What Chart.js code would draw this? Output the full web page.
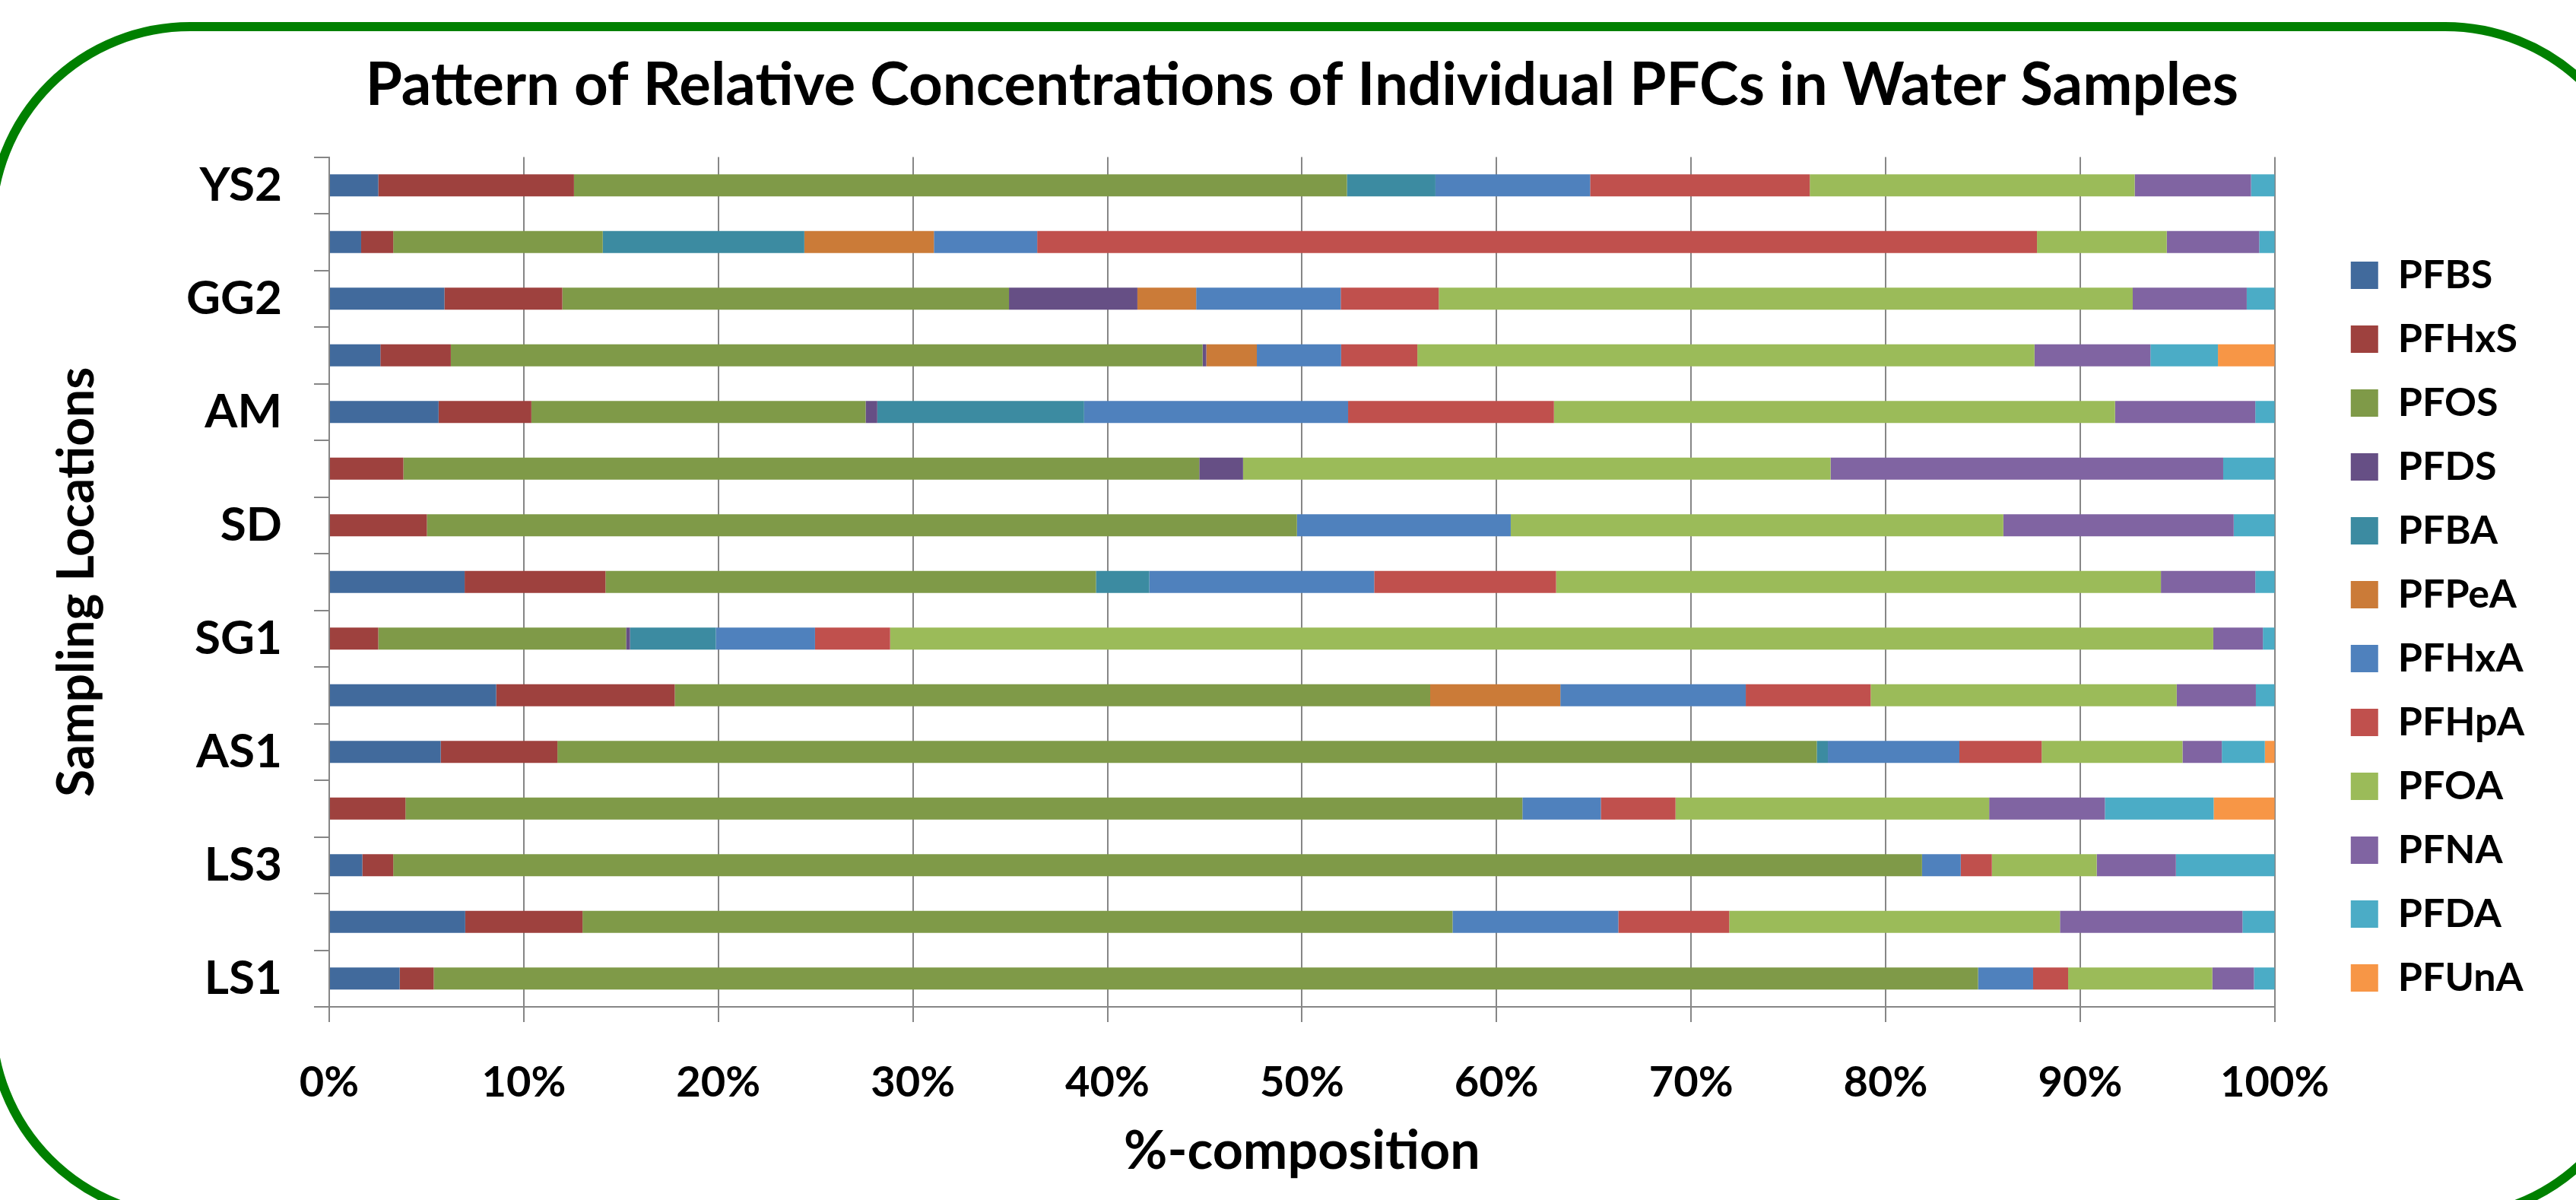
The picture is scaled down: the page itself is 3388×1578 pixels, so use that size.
<!DOCTYPE html>
<html>
<head>
<meta charset="utf-8">
<script src="https://cdn.jsdelivr.net/npm/chart.js@4.4.0/dist/chart.umd.min.js"></script>
<style>
html,body{margin:0;padding:0;background:#fff;}
canvas{display:block;}
</style>
</head>
<body>
<canvas id="c" width="3388" height="1578" style="width:3388px;height:1578px"></canvas>
<script>
// Categories listed bottom (first) to top (last)
const categories = ['LS1','LS2','LS3','LS4','AS1','AS2','SG1','SG2','SD','SD2','AM','AM2','GG2','YS1','YS2'];
const xTickLabels = ['0%','10%','20%','30%','40%','50%','60%','70%','80%','90%','100%'];
const seriesNames = ['PFBS','PFHxS','PFOS','PFDS','PFBA','PFPeA','PFHxA','PFHpA','PFOA','PFNA','PFDA','PFUnA'];

const PFBS  = [3.62, 6.99, 1.70, 0, 5.73, 8.58, 0, 6.96, 0, 0, 5.62, 2.63, 5.92, 1.64, 2.52];
const PFHxS = [1.75, 6.03, 1.59, 3.92, 6.00, 9.18, 2.52, 7.24, 5.02, 3.81, 4.77, 3.62, 6.06, 1.65, 10.06];
const PFOS  = [79.38, 44.72, 78.58, 57.41, 64.73, 38.83, 12.74, 25.21, 44.72, 40.91, 17.18, 38.64, 22.96, 10.77, 39.73];
const PFDS  = [0, 0, 0, 0, 0, 0, 0.20, 0, 0, 2.25, 0.60, 0.19, 6.60, 0, 0];
const PFBA  = [0, 0, 0, 0, 0.57, 0, 4.41, 2.74, 0, 0, 10.63, 0, 0, 10.36, 4.55];
const PFPeA = [0, 0, 0, 0, 0, 6.69, 0, 0, 0, 0, 0, 2.60, 3.02, 6.66, 0];
const PFHxA = [2.83, 8.52, 1.99, 4.03, 6.76, 9.53, 5.10, 11.56, 10.99, 0, 13.57, 4.33, 7.43, 5.31, 7.95];
const PFHpA = [1.80, 5.70, 1.60, 3.84, 4.23, 6.42, 3.86, 9.35, 0, 0, 10.58, 3.92, 5.04, 51.39, 11.29];
const PFOA  = [7.41, 17.00, 5.39, 16.12, 7.24, 15.73, 68.01, 31.09, 25.32, 30.20, 28.84, 31.72, 35.67, 6.67, 16.70];
const PFNA  = [2.14, 9.38, 4.07, 5.95, 2.02, 4.07, 2.55, 4.85, 11.84, 20.18, 7.21, 5.96, 5.86, 4.75, 5.98];
const PFDA  = [1.07, 1.66, 5.08, 5.59, 2.21, 0.97, 0.61, 1.00, 2.11, 2.65, 1.00, 3.47, 1.44, 0.80, 1.22];
const PFUnA = [0, 0, 0, 3.14, 0.51, 0, 0, 0, 0, 0, 0, 2.92, 0, 0, 0];

const seriesValues = [PFBS, PFHxS, PFOS, PFDS, PFBA, PFPeA, PFHxA, PFHpA, PFOA, PFNA, PFDA, PFUnA];
const seriesColors = ['#416A9C','#9E413E','#7F9A48','#664F85','#3C8BA1','#CB7B38',
                      '#4F81BD','#C0504D','#9BBB59','#8064A2','#4BACC6','#F79646'];

const FONT = "Lato, 'Open Sans', 'DejaVu Sans', sans-serif";
Chart.defaults.font.family = FONT;
Chart.defaults.font.weight = 'bold';
Chart.defaults.color = '#000';

const bgPlugin = {
  id: 'bg',
  beforeDraw(chart) {
    const c = chart.ctx;
    c.save();
    c.fillStyle = '#ffffff';
    c.fillRect(0, 0, chart.width, chart.height);
    c.restore();
  }
};
const framePlugin = {
  id: 'frame',
  afterDraw(chart) {
    const c = chart.ctx;
    c.save();
    c.strokeStyle = '#008000';
    c.lineWidth = 12;
    c.beginPath();
    c.roundRect(-11, 35, 3488, 1566, 261);
    c.stroke();
    c.restore();
  }
};

new Chart(document.getElementById('c'), {
  type: 'bar',
  data: {
    labels: categories,
    datasets: seriesNames.map((name, i) => ({
      label: name,
      data: seriesValues[i],
      backgroundColor: seriesColors[i],
      borderWidth: 0,
      barPercentage: 0.39,
      categoryPercentage: 1.0
    }))
  },
  options: {
    indexAxis: 'y',
    responsive: false,
    animation: false,
    devicePixelRatio: 1,
    layout: { padding: { top: 0, left: 0, right: 58, bottom: 0 } },
    plugins: {
      title: {
        display: true,
        fullSize: false,
        text: 'Pattern of Relative Concentrations of Individual PFCs in Water Samples',
        color: '#000',
        font: { size: 78, weight: 'bold' },
        padding: { top: 66, bottom: 47 }
      },
      legend: {
        position: 'right',
        align: 'center',
        title: { display: true, text: ' ', font: { size: 10 }, padding: { top: 0, bottom: 58 } },
        labels: {
          boxWidth: 36,
          boxHeight: 36,
          padding: 32,
          color: '#000',
          font: { size: 52, weight: 'bold' }
        }
      },
      tooltip: { enabled: false }
    },
    scales: {
      x: {
        stacked: true,
        min: 0,
        max: 100,
        ticks: {
          stepSize: 10,
          autoSkip: false,
          maxRotation: 0,
          callback: (v, i) => xTickLabels[i],
          font: { size: 56, weight: 'bold' },
          color: '#000',
          padding: 46
        },
        grid: { color: '#868686', lineWidth: 2, tickLength: 20, drawTicks: true },
        border: { color: '#868686', width: 2 },
        title: {
          display: true,
          text: '%-composition',
          color: '#000',
          font: { size: 70, weight: 'bold' },
          padding: { top: 0, bottom: 22 }
        },
        afterFit(s) { s.height = 254; }
      },
      y: {
        stacked: true,
        reverse: true,
        ticks: {
          autoSkip: false,
          callback: (v, i) => (i % 2 === 0 ? categories[i] : ''),
          font: { size: 62, weight: 'bold' },
          color: '#000',
          padding: 42
        },
        grid: { offset: true, drawOnChartArea: false, drawTicks: true, tickLength: 20, color: '#868686', lineWidth: 2 },
        border: { color: '#868686', width: 2 },
        title: {
          display: true,
          text: 'Sampling Locations',
          color: '#000',
          font: { size: 66, weight: 'bold' },
          padding: { top: 62, bottom: 0 }
        },
        afterFit(s) { s.width = 433; }
      },
      gap: {
        type: 'linear',
        axis: 'y',
        position: 'right',
        display: true,
        ticks: { display: false },
        grid: { display: false },
        border: { display: false },
        afterFit(s) { s.width = 68; }
      }
    }
  },
  plugins: [bgPlugin, framePlugin]
});
</script>
</body>
</html>
